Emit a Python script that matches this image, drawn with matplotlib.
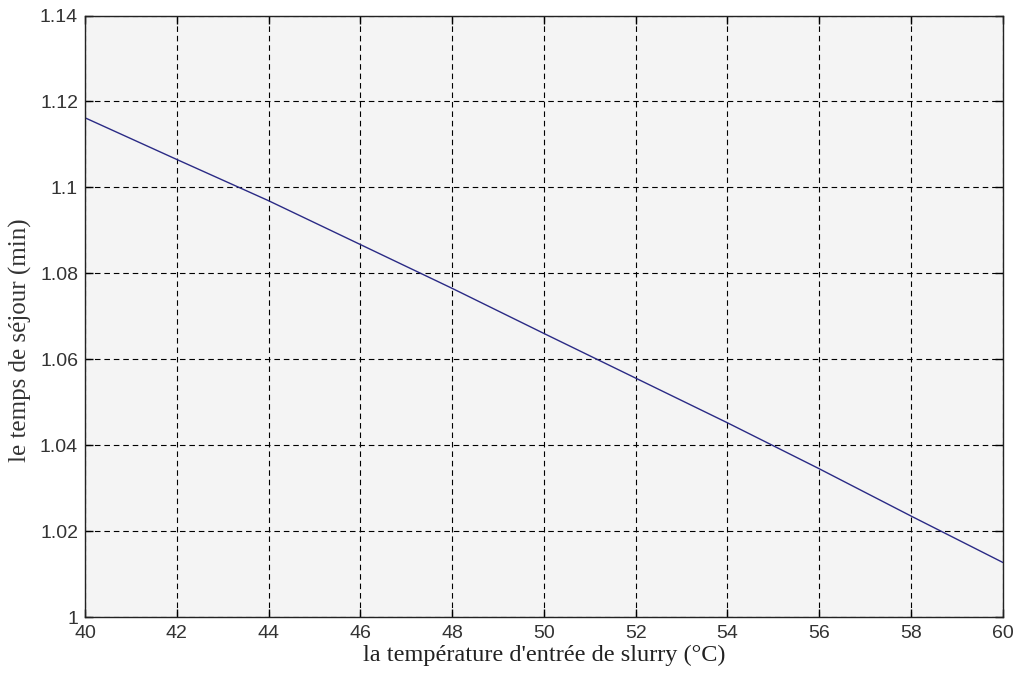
import numpy as np
import matplotlib.pyplot as plt

# values
temperature = [40, 42, 44, 46, 48, 50, 52, 54, 56, 58, 60]
residence_time = [1.1162, 1.1065, 1.0969, 1.0867, 1.0765, 1.0660,
                  1.0556, 1.0452, 1.0345, 1.0235, 1.0127]

x_ticks = [40, 42, 44, 46, 48, 50, 52, 54, 56, 58, 60]
y_ticks = [1.0, 1.02, 1.04, 1.06, 1.08, 1.1, 1.12, 1.14]
y_tick_labels = ['1', '1.02', '1.04', '1.06', '1.08', '1.1', '1.12', '1.14']

fig = plt.figure(figsize=(10.14, 6.75), dpi=100)
ax = fig.add_axes([0.0838, 0.0859, 0.9052, 0.8911])
ax.set_facecolor('#f4f4f4')

ax.plot(temperature, residence_time, color='#2a2a85', linewidth=1.0)

ax.set_xlim(40, 60)
ax.set_ylim(1.0, 1.14)
ax.set_xticks(x_ticks)
ax.set_yticks(y_ticks)
ax.set_yticklabels(y_tick_labels)

for lab in ax.get_xticklabels() + ax.get_yticklabels():
    lab.set_fontfamily('Liberation Sans')
    lab.set_fontsize(14)
    lab.set_color('#333333')

ax.tick_params(direction='in', top=True, right=True, length=6, width=1.0)
ax.tick_params(axis='y', pad=5)
ax.tick_params(axis='x', pad=6)
ax.grid(True, color='black', linestyle=(0, (5, 3.5)), linewidth=0.8)
for s in ax.spines.values():
    s.set_linewidth(1.0)
    s.set_color('#222222')

ax.set_xlabel("la température d'entrée de slurry (°C)", family='Liberation Serif',
              fontsize=17.5, color='#222222')
ax.set_ylabel('le temps de séjour (min)', family='Liberation Serif',
              fontsize=18, color='#333333')
ax.xaxis.set_label_coords(0.5, -0.046)
ax.yaxis.set_label_coords(-0.058, 0.46)

fig.savefig('out.png', dpi=100)
